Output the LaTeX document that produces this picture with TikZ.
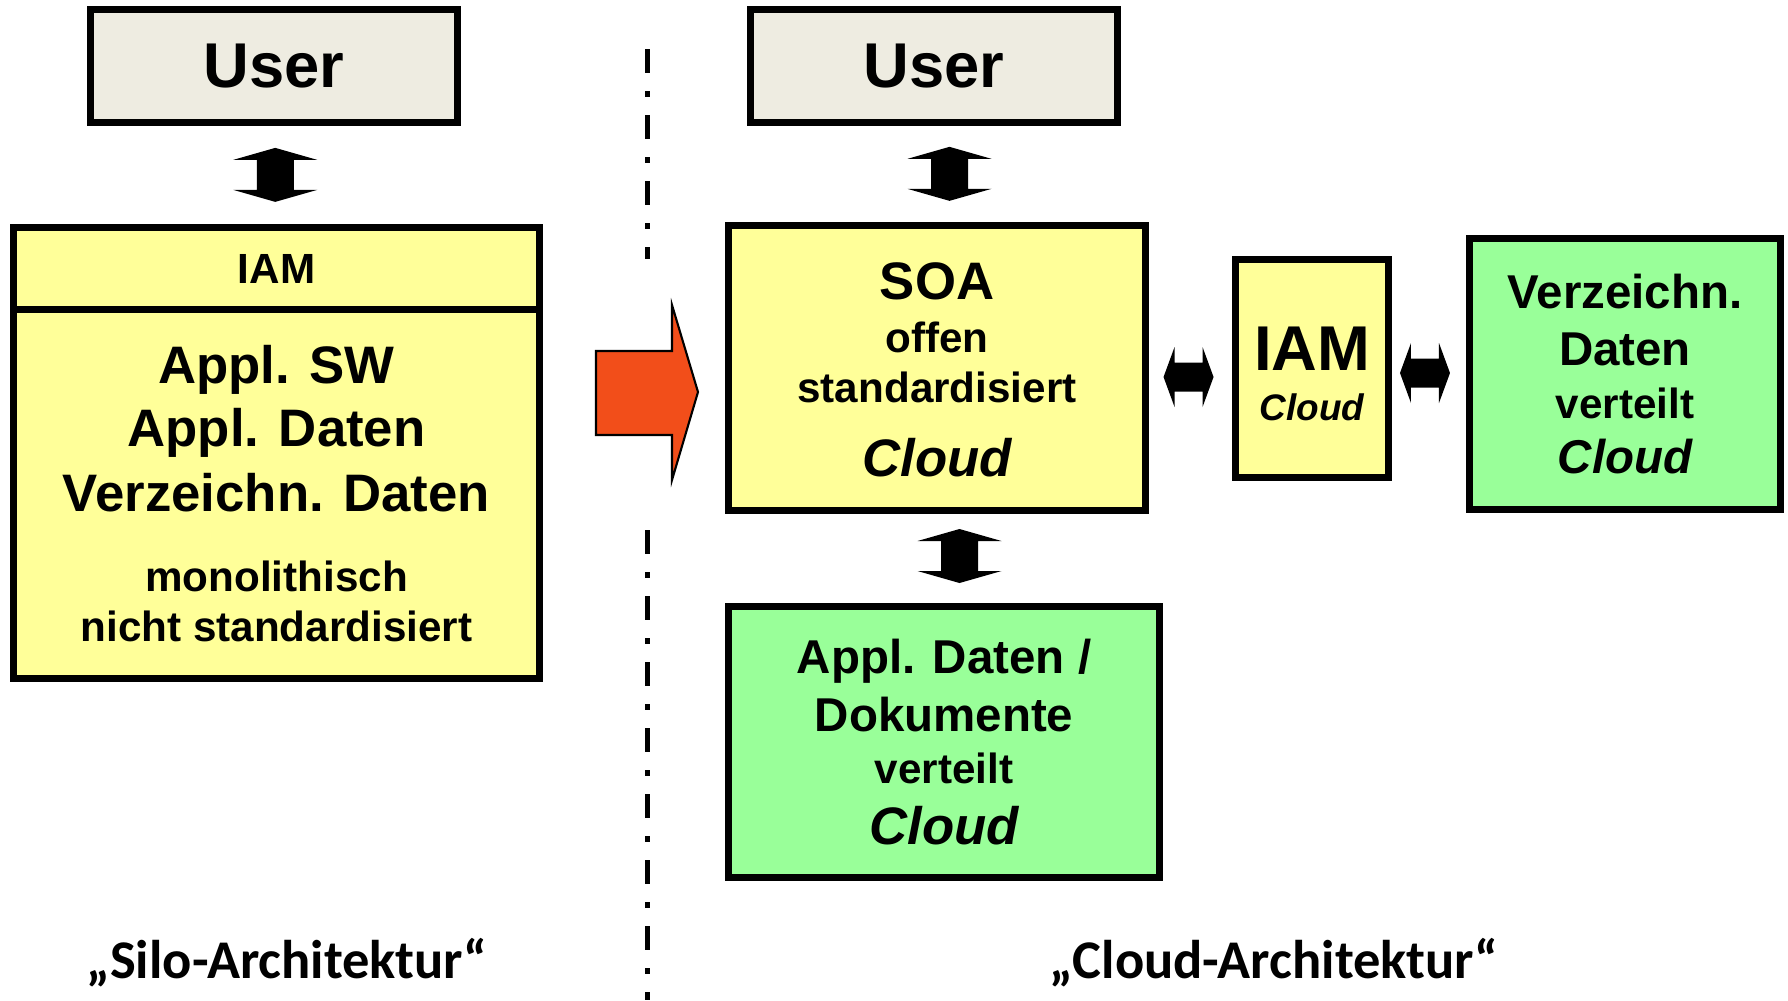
\documentclass[tikz,border=0pt]{standalone}
\usepackage{fontspec}
\setmainfont{Liberation Sans}
\newfontfamily\labelfont{Carlito}
\usepackage{tikz}
\usetikzlibrary{calc}
\usepackage{xcolor}
\definecolor{userbg}{RGB}{238,236,225}
\definecolor{boxyellow}{RGB}{255,255,153}
\definecolor{boxgreen}{RGB}{153,255,153}
\definecolor{shiftred}{RGB}{242,78,26}
\tikzstyle{box} = [draw, line width=0.07cm, align=center, inner sep=0pt, font=\bfseries\fontsize{12}{14.2}\selectfont]
\tikzstyle{userbox} = [box, fill=userbg, line width=0.065cm, minimum width=3.67cm, minimum height=1.13cm, font=\bfseries\fontsize{18}{20}\selectfont]
\tikzstyle{yellowbox} = [box, fill=boxyellow]
\tikzstyle{greenbox} = [box, fill=boxgreen]
\tikzstyle{sepline} = [line width=0.05cm, dash pattern=on 2.4mm off 1.8mm on 0.6mm off 1.8mm]
\tikzstyle{shiftarrow} = [fill=shiftred, draw=black, line width=0.6pt, line join=miter]
\tikzstyle{sublabel} = [anchor=base, font=\labelfont\bfseries\fontsize{15.5}{18}\selectfont]
\tikzset{
  vbiarrow/.pic={\fill (0,-27) -- (42,-15) -- (18.5,-15) -- (18.5,15) -- (42,15) -- (0,27) -- (-42,15) -- (-18.5,15) -- (-18.5,-15) -- (-42,-15) -- cycle;},
  hbiarrow/.pic={\fill (-25,0) -- (-14,-30) -- (-14,-14.5) -- (14,-14.5) -- (14,-30) -- (25,0) -- (14,30) -- (14,14.5) -- (-14,14.5) -- (-14,30) -- cycle;}
}

\begin{document}
\begin{tikzpicture}[x=0.01cm, y=-0.01cm]
\useasboundingbox (0,0) rectangle (1788,1000);

% Silo side
\node[userbox] (userL) at (274,66) {User};
\node[yellowbox, minimum width=5.26cm, minimum height=3.70cm] (silo) at (276.5,493.5)
  {{\fontsize{15}{18}\selectfont Appl. SW}\\[3.7pt]
   {\fontsize{15}{18}\selectfont Appl. Daten}\\[4.3pt]
   {\fontsize{15}{18}\selectfont Verzeichn. Daten}\\[8.6pt]
   monolithisch\\
   nicht standardisiert};
\node[yellowbox, minimum width=5.26cm, minimum height=0.82cm] (iamL) at (276.5,268.5) {IAM};
\pic at ($(userL.south)!0.5!(iamL.north)$) {vbiarrow};

% Separator
\draw[sepline] (647,49) -- (647,259);
\draw[sepline] (647,530) -- (647,1000);

% Transition arrow
\draw[shiftarrow] (596,351) -- (672,351) -- (672,305) -- (698,392) -- (672,480) -- (672,435) -- (596,435) -- cycle;

% Cloud side
\node[userbox] (userR) at (934,66) {User};
\node[yellowbox, minimum width=4.17cm, minimum height=2.85cm, text height=2.17cm] (soa) at (937,368)
  {{\fontsize{15}{18}\selectfont SOA}\\[0.9pt]
   offen\\
   standardisiert\\[6.85pt]
   {\fontsize{15}{18}\selectfont\itshape Cloud}};
\node[yellowbox, minimum width=1.53cm, minimum height=2.18cm, text height=1.04cm, font=\bfseries\fontsize{10.5}{14.2}\selectfont] (iamC) at (1312,368.5)
  {{\fontsize{18}{20}\selectfont IAM}\\
   {\itshape Cloud}};
\node[greenbox, minimum width=3.11cm, minimum height=2.71cm] (verz) at (1625,374)
  {{\fontsize{13.5}{16}\selectfont Verzeichn.}\\[2pt]
   {\fontsize{13.5}{16}\selectfont Daten}\\[0.9pt]
   verteilt\\[1.4pt]
   {\fontsize{13.5}{16}\selectfont\itshape Cloud}};
\node[greenbox, minimum width=4.31cm, minimum height=2.71cm] (appl) at (944,742)
  {{\fontsize{13.5}{16}\selectfont Appl. Daten /}\\[2.3pt]
   {\fontsize{13.5}{16}\selectfont Dokumente}\\[0.6pt]
   verteilt\\[3.15pt]
   {\fontsize{15}{18}\selectfont\itshape Cloud}};

\pic at ($(userR.south)!0.5!(soa.north)+(14,0)$) {vbiarrow};
\pic at ($(soa.south)!0.5!(appl.north)+(19,-2.5)$) {vbiarrow};
\pic at ($(soa.east)!0.5!(iamC.west)+(-2,8.75)$) {hbiarrow};
\pic at ($(iamC.east)!0.5!(verz.west)+(-4,1.75)$) {hbiarrow};

% Captions
\node[sublabel] (silolbl) at (287,978) {„Silo-Architektur“};
\node[sublabel] (cloudlbl) at (1274,978) {„Cloud-Architektur“};
\end{tikzpicture}
\end{document}
